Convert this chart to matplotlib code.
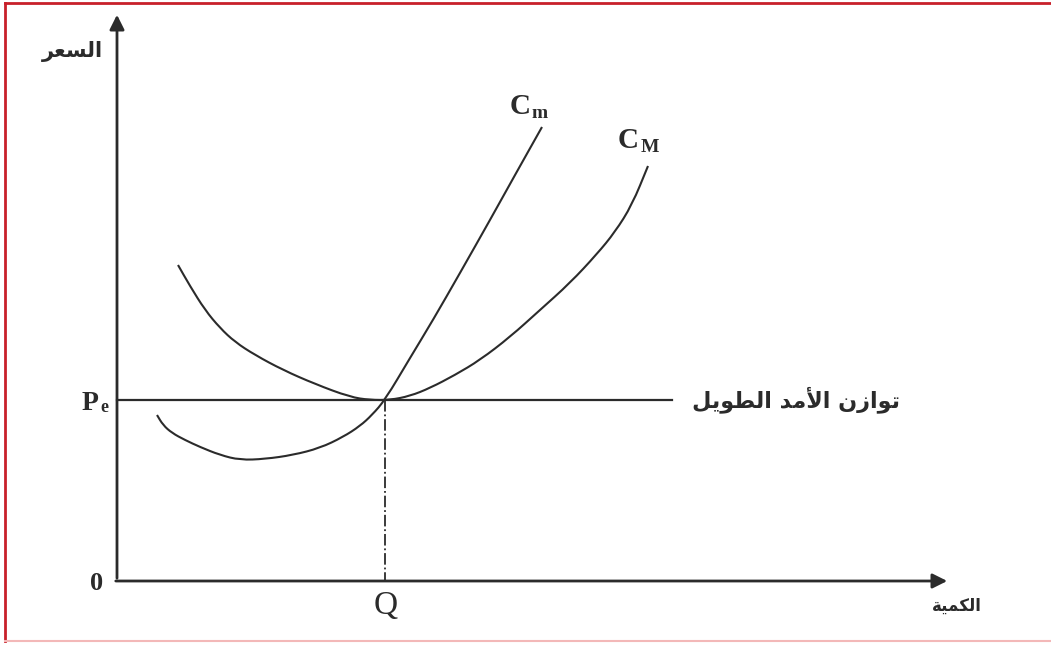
import matplotlib
matplotlib.use("Agg")
from matplotlib import pyplot as plt
from matplotlib.path import Path
from matplotlib.patches import PathPatch

# curves, in pixel coordinates (x right, y down)
cm_x = [157, 163, 172, 185, 200, 220, 240, 265, 293, 320, 343, 360, 372, 385, 410, 433, 460, 490, 515, 542]
cm_y = [415, 425, 433, 440, 447, 455, 460, 459, 455, 448, 437, 426, 415, 400, 358, 320, 273, 220, 175, 127]

cM_x = [178, 190, 205, 220, 235, 255, 283, 315, 350, 370, 390, 410, 430, 455, 480, 510, 540, 570, 597, 615, 632, 648]
cM_y = [265, 286, 310, 328, 342, 355, 370, 384, 397, 400, 400, 396, 388, 375, 360, 337, 310, 283, 254, 232, 205, 166]

origin = (117, 581)
pe_y = 400
q_x = 385
pe_end = 672

# arabic labels, written as presentation forms in visual order
lbl_price = "\uFEAE\uFECC\uFEB4\uFEDF\uFE8D"            # السعر
lbl_qty = "\uFE94\uFEF4\uFEE4\uFEDC\uFEDF\uFE8D"        # الكمية
lbl_eq = ("\uFEDE\uFEF3\uFEEE\uFEC4\uFEDF\uFE8D" + " " +
          "\uFEAA\uFEE3\uFEF7\uFE8D" + " " +
          "\uFEE5\uFEAF\uFE8D\uFEEE\uFE97")             # توازن الأمد الطويل

ink = "#2b2b2b"
serif = ["Liberation Serif", "DejaVu Serif"]


def smooth_curve(ax, xs, ys, **kw):
    # quadratic bezier through the midpoints, read points act as controls
    pts = list(zip(xs, ys))
    verts = [pts[0], ((pts[0][0] + pts[1][0]) / 2, (pts[0][1] + pts[1][1]) / 2)]
    codes = [Path.MOVETO, Path.LINETO]
    for i in range(1, len(pts) - 1):
        mid = ((pts[i][0] + pts[i + 1][0]) / 2, (pts[i][1] + pts[i + 1][1]) / 2)
        verts += [pts[i], mid]
        codes += [Path.CURVE3, Path.CURVE3]
    verts.append(pts[-1])
    codes.append(Path.LINETO)
    ax.add_patch(PathPatch(Path(verts, codes), fill=False, **kw))


fig = plt.figure(figsize=(10.51, 6.45), dpi=100)
ax = fig.add_axes([0, 0, 1, 1])
ax.set_xlim(0, 1051)
ax.set_ylim(645, 0)
ax.axis("off")

# red frame
ax.plot([5, 1051], [3, 3], color="#c8202a", lw=2)
ax.plot([5, 5], [3, 641], color="#c8202a", lw=2)
ax.plot([5, 1051], [641, 641], color="#f3b8b8", lw=1.5)

# axes with arrows
ax.annotate("", xy=(origin[0], 12), xytext=(origin[0], origin[1]),
            arrowprops=dict(arrowstyle="-|>", color=ink, lw=2, mutation_scale=22))
ax.annotate("", xy=(950, origin[1]), xytext=(113, origin[1]),
            arrowprops=dict(arrowstyle="-|>", color=ink, lw=2, mutation_scale=22))

# equilibrium line and Q guide
ax.plot([origin[0], pe_end], [pe_y, pe_y], color=ink, lw=1.6)
ax.plot([q_x, q_x], [pe_y, origin[1]], color=ink, lw=1.3, ls="-.")

# cost curves
smooth_curve(ax, cm_x, cm_y, edgecolor=ink, lw=1.5)
smooth_curve(ax, cM_x, cM_y, edgecolor=ink, lw=1.5)

# arabic labels
ax.text(103, 52, lbl_price, ha="right", va="center", fontsize=15,
        fontweight="bold", family="DejaVu Sans", color=ink)
ax.text(982, 606, lbl_qty, ha="right", va="center", fontsize=12,
        fontweight="bold", family="DejaVu Sans", color=ink)
ax.text(900, 400, lbl_eq, ha="right", va="center", fontsize=16,
        fontweight="bold", family="DejaVu Sans", color=ink)

# latin labels, subscripts as separate smaller texts
ax.text(90, 403, "P", ha="center", va="center", fontsize=20,
        fontweight="bold", family=serif, color=ink)
ax.text(104, 408, "e", ha="center", va="center", fontsize=13,
        fontweight="bold", family=serif, color=ink)
ax.text(97, 584, "0", ha="center", va="center", fontsize=19,
        fontweight="bold", family=serif, color=ink)
ax.text(386, 606, "Q", ha="center", va="center", fontsize=24,
        family=serif, color=ink)
ax.text(520, 106, "C", ha="center", va="center", fontsize=21,
        fontweight="bold", family=serif, color=ink)
ax.text(540, 113, "m", ha="center", va="center", fontsize=14,
        fontweight="bold", family=serif, color=ink)
ax.text(628, 141, "C", ha="center", va="center", fontsize=21,
        fontweight="bold", family=serif, color=ink)
ax.text(650, 148, "M", ha="center", va="center", fontsize=14,
        fontweight="bold", family=serif, color=ink)

plt.savefig("out.png", dpi=100)
